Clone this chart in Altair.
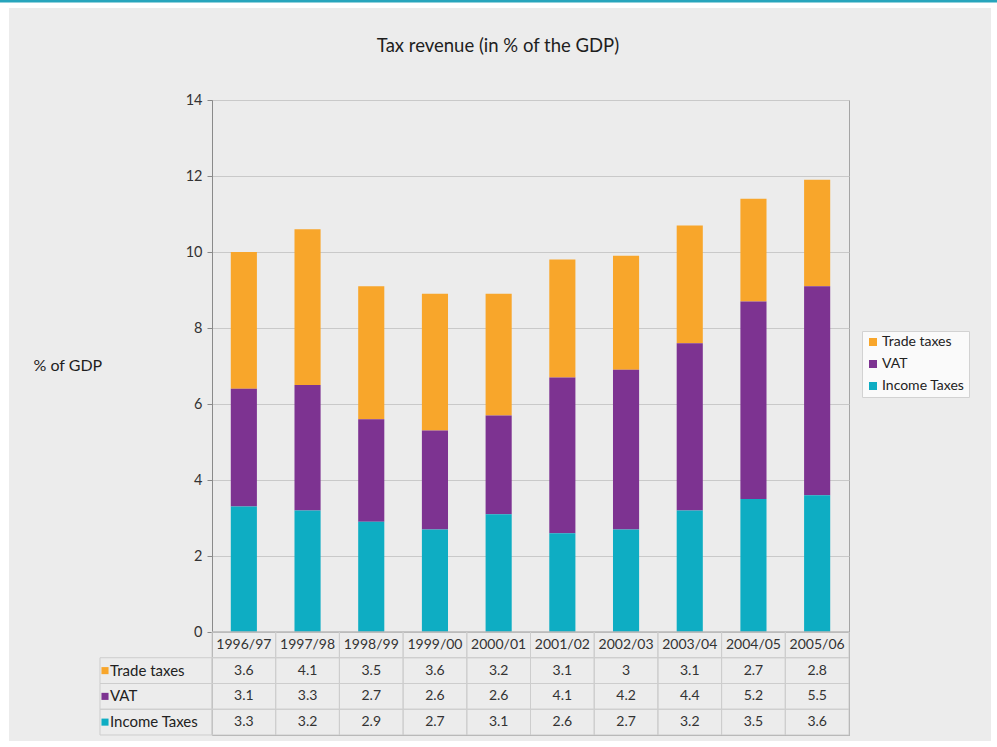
import altair as alt
import pandas as pd

# ---------------- data ----------------
years = ["1996/97", "1997/98", "1998/99", "1999/00", "2000/01",
         "2001/02", "2002/03", "2003/04", "2004/05", "2005/06"]
series = ["Trade taxes", "VAT", "Income Taxes"]
colors = ["#f8a62b", "#7d3391", "#0eadc3"]
trade = [3.6, 4.1, 3.5, 3.6, 3.2, 3.1, 3.0, 3.1, 2.7, 2.8]
vat = [3.1, 3.3, 2.7, 2.6, 2.6, 4.1, 4.2, 4.4, 5.2, 5.5]
income = [3.3, 3.2, 2.9, 2.7, 3.1, 2.6, 2.7, 3.2, 3.5, 3.6]
y_ticks = [0, 2, 4, 6, 8, 10, 12, 14]
title_text = "Tax revenue (in % of the GDP)"
y_title = "% of GDP"

FONT = "Lato"
W, H_PLOT, H_TABLE_END = 637, 532, 635

values_by_series = {"Trade taxes": trade, "VAT": vat, "Income Taxes": income}
stack_order = {"Income Taxes": 0, "VAT": 1, "Trade taxes": 2}

bar_rows = []
for i, yr in enumerate(years):
    for s in series:
        bar_rows.append({"year": yr, "series": s, "value": values_by_series[s][i],
                         "order": stack_order[s]})
bars_df = pd.DataFrame(bar_rows)

table_rows = ["Year"] + series
cell_rows = []
for i, yr in enumerate(years):
    cell_rows.append({"year": yr, "row": "Year", "text": yr})
    for s in series:
        cell_rows.append({"year": yr, "row": s, "text": f"{values_by_series[s][i]:g}"})
cells_df = pd.DataFrame(cell_rows)
labels_df = pd.DataFrame({"row": series, "series": series})
one_df = pd.DataFrame({"t": [title_text]})

# ---------------- encodings ----------------
x_enc = alt.X("year:N", sort=years,
              scale=alt.Scale(domain=years, paddingInner=0, paddingOuter=0),
              axis=None)
color_scale = alt.Scale(domain=series, range=colors)
row_y = alt.Y("row:N", scale=alt.Scale(domain=table_rows, range=[H_PLOT, H_TABLE_END],
                                       paddingInner=0, paddingOuter=0), axis=None)
val_scale = alt.Scale(domain=[0, 14], range=[H_PLOT, 0], nice=False)

# white page margins around the grey panel and the top cyan line
margins_df = pd.DataFrame({
    "x": [-212, 779, -212, -212], "x2": [-203, 785, 785, 785],
    "y": [-100, -100, -100, 641], "y2": [647, 647, -92, 647]})
margins = alt.Chart(margins_df).mark_rect(color="white").encode(
    x=alt.X("x:Q", scale=None), x2="x2:Q", y=alt.Y("y:Q", scale=None), y2="y2:Q")
top_line = alt.Chart(one_df).mark_rule(color="#27a5bc", strokeWidth=3).encode(
    x=alt.value(-212), x2=alt.value(785), y=alt.value(-99))
title = alt.Chart(one_df).mark_text(font=FONT, fontSize=18.5, color="#1e1e1e",
                                    baseline="middle", align="center").encode(
    x=alt.value(286), y=alt.value(-54), text="t:N")

bars = alt.Chart(bars_df).mark_bar(width=alt.RelativeBandSize(0.41)).encode(
    x=x_enc,
    y=alt.Y("value:Q", stack="zero", scale=val_scale,
            axis=alt.Axis(values=y_ticks, grid=True, gridColor="#c9c9c9",
                          domainColor="#8a8a8a", tickColor="#8a8a8a", tickSize=5,
                          labelFont=FONT, labelFontSize=14.5, labelColor="#333",
                          labelPadding=5,
                          title=y_title, titleAngle=0, titleAlign="left",
                          titleBaseline="middle", titleX=-179, titleY=265,
                          titleFont=FONT, titleFontSize=16, titleFontWeight="normal",
                          titleColor="#1e1e1e")),
    color=alt.Color("series:N", scale=color_scale,
                    legend=alt.Legend(orient="none", legendX=650, legendY=231,
                                      title=None, symbolType="square", symbolSize=64,
                                      symbolStrokeWidth=0,
                                      labelFont=FONT, labelFontSize=14, labelColor="#222",
                                      fillColor="#fafafa", strokeColor="#d2d2d2",
                                      padding=4, rowPadding=8, labelOffset=2)),
    order=alt.Order("order:Q"),
)

axis_line = alt.Chart(one_df).mark_rule(color="#8a8a8a", strokeWidth=1).encode(
    x=alt.value(0), x2=alt.value(W), y=alt.value(H_PLOT))

cells = alt.Chart(cells_df).mark_rect(fillOpacity=0, stroke="#cdcdcd", strokeWidth=1).encode(
    x=x_enc, y=row_y)
cell_text = alt.Chart(cells_df).mark_text(font=FONT, fontSize=14, color="#333",
                                          baseline="middle").encode(
    x=x_enc, y=row_y, text="text:N")

label_cells = alt.Chart(labels_df).mark_rect(fillOpacity=0, stroke="#cdcdcd",
                                             strokeWidth=1).encode(
    x=alt.value(-112), x2=alt.value(0), y=row_y)
label_sq = alt.Chart(labels_df).mark_square(size=50, opacity=1).encode(
    x=alt.value(-107), y=row_y,
    color=alt.Color("series:N", scale=color_scale, legend=None))
label_text = alt.Chart(labels_df).mark_text(font=FONT, fontSize=15, color="#222",
                                            align="left", baseline="middle").encode(
    x=alt.value(-102), y=row_y, text="row:N")

chart = alt.layer(
    margins, top_line, title, bars, axis_line, cells, cell_text,
    label_cells, label_sq, label_text
).resolve_scale(y="independent", x="independent").properties(
    width=W, height=H_TABLE_END,
    autosize=alt.AutoSizeParams(type="none"),
    padding={"left": 212, "top": 100, "right": 148, "bottom": 12},
    background="#ececec",
).configure_view(stroke="#a5a5a5", strokeWidth=1)

chart.save("out.html", embed_options={"renderer": "svg", "actions": False})
